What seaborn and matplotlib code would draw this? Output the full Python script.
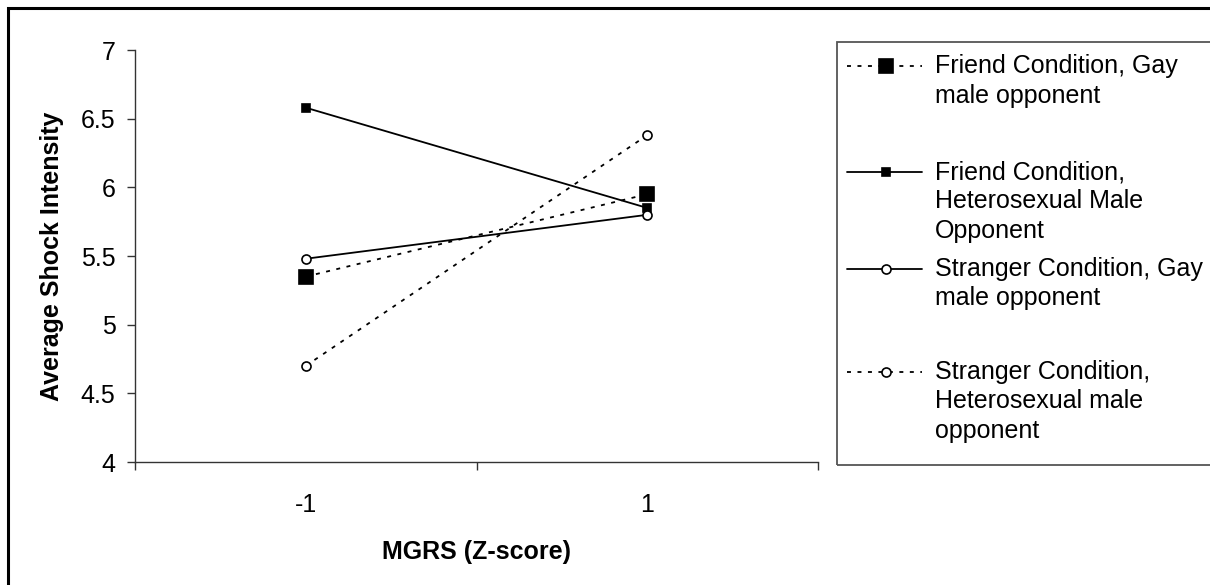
import matplotlib
matplotlib.use("Agg")
import pandas as pd
import matplotlib.pyplot as plt
import matplotlib.patches as mpatches
from matplotlib.lines import Line2D
import seaborn as sns

# ── Data ───────────────────────────────────────────────────────────────────────
mgrs = ["-1", "1"]
friend_gay = [5.35, 5.95]
friend_het = [6.58, 5.85]
stranger_gay = [5.48, 5.80]
stranger_het = [4.70, 6.38]

legend_lines = [
    ["Friend Condition, Gay", "male opponent"],
    ["Friend Condition,", "Heterosexual Male", "Opponent"],
    ["Stranger Condition, Gay", "male opponent"],
    ["Stranger Condition,", "Heterosexual male", "opponent"],
]
y_ticks = [4, 4.5, 5, 5.5, 6, 6.5, 7]
y_tick_labels = ["4", "4.5", "5", "5.5", "6", "6.5", "7"]

# ── Style ──────────────────────────────────────────────────────────────────────
sns.set_theme(style="white")
plt.rcParams["font.family"] = ["Liberation Sans", "DejaVu Sans"]
FS = 18
DOT = (0, (2.2, 3.6))

series = [
    (friend_gay,   DOT, "s", 10.5, "black"),
    (friend_het,   "-", "s", 6.0,  "black"),
    (stranger_gay, "-", "o", 6.5,  "white"),
    (stranger_het, DOT, "o", 6.5,  "white"),
]

W, H = 1210, 585
fig = plt.figure(figsize=(W / 100, H / 100), dpi=100)
fig.patch.set_facecolor("white")
ax = fig.add_axes([135 / W, 1 - 462 / H, (818 - 135) / W, (462 - 50) / H])

for vals, ls, mk, ms, fc in series:
    df = pd.DataFrame({"MGRS": mgrs, "shock": vals})
    sns.lineplot(data=df, x="MGRS", y="shock", ax=ax, color="black",
                 linestyle=ls, linewidth=1.3, marker=mk, markersize=ms,
                 markerfacecolor=fc, markeredgecolor="black",
                 markeredgewidth=1.2, sort=False)

ax.set_xlim(-0.5, 1.5)
ax.set_ylim(4, 7)
ax.set_xticks([-0.5, 0.5, 1.5], labels=["", "", ""])
ax.set_xticks([0, 1], labels=mgrs, minor=True)
ax.tick_params(axis="x", which="major", direction="out", length=6, width=1,
               color="#333333", bottom=True)
ax.tick_params(axis="x", which="minor", length=0, pad=22, labelsize=FS,
               labelcolor="black")
ax.set_yticks(y_ticks, labels=y_tick_labels)
ax.tick_params(axis="y", direction="out", length=6, width=1, pad=8,
               color="#333333", left=True, labelsize=FS, labelcolor="black")

for side in ["top", "right"]:
    ax.spines[side].set_visible(False)
for side in ["left", "bottom"]:
    ax.spines[side].set_color("#333333")
    ax.spines[side].set_linewidth(1)

ax.set_xlabel("MGRS (Z-score)", fontsize=FS, fontweight="bold", color="black")
ax.set_ylabel("Average Shock Intensity", fontsize=FS, fontweight="bold", color="black")
ax.xaxis.set_label_coords(0.5, (462 - 552) / (462 - 50))
ax.xaxis.label.set_va("center")
ax.yaxis.set_label_coords((52 - 135) / (818 - 135), 0.5)
ax.yaxis.label.set_va("center")
ax.yaxis.label.set_ha("center")
if ax.get_legend():
    ax.get_legend().remove()

# ── Outer chart frame (cropped at right / bottom) ──────────────────────────────
fig.patches.append(mpatches.Rectangle((8 / W, -0.2), 1.3, 1.2 - 8 / H,
                                      transform=fig.transFigure, fill=False,
                                      edgecolor="black", linewidth=2.2,
                                      clip_on=False))

# ── Legend box ────────────────────────────────────────────────────────────────
fig.patches.append(mpatches.Rectangle((837 / W, 1 - 465 / H), 0.5, (465 - 42) / H,
                                      transform=fig.transFigure, fill=False,
                                      edgecolor="#555555", linewidth=1.3,
                                      clip_on=False))

entry_y = [66, 172, 269, 372]
line_gap = 29.5
for (vals, ls, mk, ms, fc), lines, y0 in zip(series, legend_lines, entry_y):
    yf = 1 - y0 / H
    fig.add_artist(Line2D([847 / W, 922 / W], [yf, yf], transform=fig.transFigure,
                          color="black", linestyle=ls, linewidth=1.3))
    fig.add_artist(Line2D([886 / W], [yf], transform=fig.transFigure,
                          marker=mk, markersize=ms, markerfacecolor=fc,
                          markeredgecolor="black", markeredgewidth=1.2,
                          linestyle="none"))
    for i, txt in enumerate(lines):
        fig.text(935 / W, 1 - (y0 + i * line_gap) / H, txt, fontsize=FS,
                 ha="left", va="center", color="black")

fig.savefig("out.png", dpi=100, facecolor="white")
